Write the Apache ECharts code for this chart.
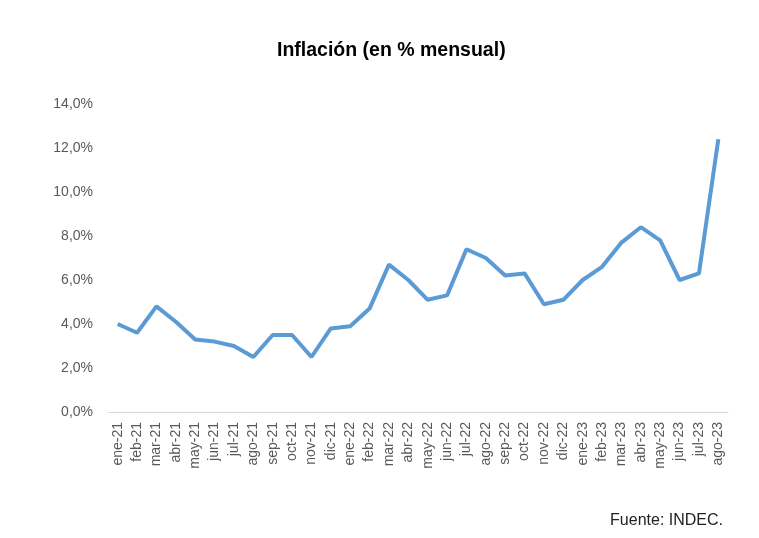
<!DOCTYPE html>
<html><head><meta charset="utf-8">
<script src="https://cdn.jsdelivr.net/npm/echarts@6/dist/echarts.min.js"></script>
<style>html,body{margin:0;padding:0;background:#fff}#c{width:759px;height:538px}</style>
</head><body><div id="c"></div>
<script>
const categories = ["ene-21","feb-21","mar-21","abr-21","may-21","jun-21","jul-21","ago-21","sep-21","oct-21","nov-21","dic-21","ene-22","feb-22","mar-22","abr-22","may-22","jun-22","jul-22","ago-22","sep-22","oct-22","nov-22","dic-22","ene-23","feb-23","mar-23","abr-23","may-23","jun-23","jul-23","ago-23"];
const inflacion = [4.0,3.6,4.8,4.1,3.3,3.2,3.0,2.5,3.5,3.5,2.5,3.8,3.9,4.7,6.7,6.0,5.1,5.3,7.4,7.0,6.2,6.3,4.9,5.1,6.0,6.6,7.7,8.4,7.8,6.0,6.3,12.4];
const titleText = "Inflación (en % mensual)";
const sourceText = "Fuente: INDEC.";
const chart = echarts.init(document.getElementById('c'));
chart.setOption({
  animation:false,
  title:{text:titleText,left:272,top:36,textStyle:{fontFamily:'Liberation Sans, Arial',fontSize:19.5,fontWeight:'bold',color:'#000'}},
  graphic:[{type:'text',right:36,top:513,style:{text:sourceText,font:'16px "Liberation Sans", Arial',fill:'#222'}}],
  grid:{left:108,right:31,top:104,bottom:126},
  xAxis:{type:'category',data:categories,boundaryGap:true,
    axisLine:{lineStyle:{color:'#d9d9d9',width:1}},axisTick:{show:false},
    axisLabel:{rotate:90,fontSize:14,color:'#595959',fontFamily:'Liberation Sans, Arial',interval:0,margin:10}},
  yAxis:{type:'value',min:0,max:14,interval:2,
    axisLine:{show:false},axisTick:{show:false},splitLine:{show:false},
    axisLabel:{fontSize:14,color:'#595959',fontFamily:'Liberation Sans, Arial',margin:15,
      formatter:v=>v.toFixed(1).replace('.',',')+'%'}},
  series:[{type:'line',data:inflacion,symbol:'none',lineStyle:{color:'#5b9bd5',width:4},itemStyle:{color:'#5b9bd5'}}]
});
</script></body></html>
